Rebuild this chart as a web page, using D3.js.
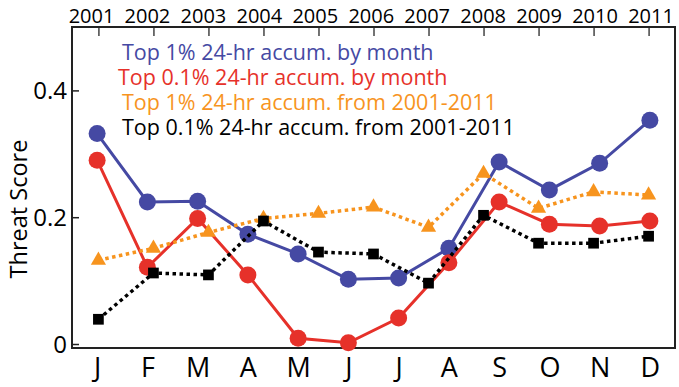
<!DOCTYPE html>
<html>
<head>
<meta charset="utf-8">
<script src="https://cdn.jsdelivr.net/npm/d3@7"></script>
<style>
  html, body { margin: 0; padding: 0; background: #fff; }
  svg text { font-family: 'Open Sans', sans-serif; }
</style>
</head>
<body>
<div id="vis"></div>
<script>
// months (bottom axis) and years (top axis)
var months = ["J", "F", "M", "A", "M ", "J ", "J  ", "A ", "S", "O", "N", "D"]
var monthLabels = ["J", "F", "M", "A", "M", "J", "J", "A", "S", "O", "N", "D"]
var years = ["2001", "2002", "2003", "2004", "2005", "2006", "2007", "2008", "2009", "2010", "2011"]
var yTicks = [0, 0.2, 0.4]

// by month series
var top1Month = [0.332, 0.224, 0.225, 0.173, 0.142, 0.102, 0.104, 0.151, 0.287, 0.243, 0.285, 0.353]
var top01Month = [0.290, 0.121, 0.198, 0.109, 0.009, 0.002, 0.041, 0.128, 0.224, 0.189, 0.186, 0.194]
// by year series
var top1Year = [0.132, 0.151, 0.176, 0.198, 0.206, 0.216, 0.184, 0.269, 0.214, 0.240, 0.235]
var top01Year = [0.039, 0.112, 0.109, 0.194, 0.145, 0.142, 0.096, 0.203, 0.159, 0.159, 0.170]

var legendItems = [
    { text: "Top 1% 24-hr accum. by month", color: "#4549a3" },
    { text: "Top 0.1% 24-hr accum. by month", color: "#e6312a" },
    { text: "Top 1% 24-hr accum. from 2001-2011", color: "#f7941e" },
    { text: "Top 0.1% 24-hr accum. from 2001-2011", color: "#000000" }
]

var W = 679, H = 387
var margin = { top: 27, right: 4, bottom: 39, left: 72 },
    width = W - margin.left - margin.right,
    height = H - margin.top - margin.bottom;

var svg = d3.select("#vis").append("svg")
    .attr("width", W)
    .attr("height", H)

var g = svg.append("g")
    .attr("transform", "translate(" + margin.left + "," + margin.top + ")")

var xMonth = d3.scalePoint().domain(months).range([0, width]).padding(0.5)
var xYear = d3.scalePoint().domain(years).range([0, width]).padding(0.48)
// the year labels sit a bit wider apart than their ticks
var xYearLabel = d3.scalePoint().domain(years).range([19.5, 579])
var y = d3.scaleLinear().domain([-0.0063, 0.5]).range([height, 0])

// top axis (years): ticks inside the frame
var topAxis = g.append("g")
    .call(d3.axisTop(xYear).tickSize(-9).tickFormat(""))
topAxis.select("path.domain").remove()
topAxis.selectAll(".tick line").attr("stroke", "#444").attr("stroke-width", 1.5)

g.append("g")
    .selectAll("text")
    .data(years)
    .enter()
    .append("text")
    .attr("x", function (d) { return xYearLabel(d) })
    .attr("y", -4)
    .attr("text-anchor", "middle")
    .attr("fill", "#000")
    .style("font-size", "20px")
    .text(function (d) { return d })

// bottom axis (months)
var bottomAxis = g.append("g")
    .attr("transform", "translate(0," + height + ")")
    .call(d3.axisBottom(xMonth).tickSize(0).tickFormat(function (d, i) { return monthLabels[i] }))
bottomAxis.select("path.domain").remove()
bottomAxis.selectAll(".tick text")
    .attr("y", 29)
    .attr("dy", 0)
    .attr("fill", "#000")
    .style("font-size", "27px")

// left axis
var leftAxis = g.append("g")
    .call(d3.axisLeft(y).tickValues(yTicks).tickSize(-7).tickPadding(5)
        .tickFormat(function (d) { return d == 0 ? "0" : d.toFixed(1) }))
leftAxis.select("path.domain").remove()
leftAxis.selectAll(".tick line").attr("stroke", "#222").attr("stroke-width", 1.5)
leftAxis.selectAll(".tick text")
    .attr("fill", "#000")
    .attr("dy", "0.35em")
    .style("font-size", "24px")

svg.append("text")
    .attr("transform", "translate(27,209) rotate(-90)")
    .attr("text-anchor", "middle")
    .attr("fill", "#000")
    .style("font-size", "23.5px")
    .text("Threat Score")

// frame
g.append("rect")
    .attr("width", width)
    .attr("height", height)
    .attr("fill", "none")
    .attr("stroke", "#222")
    .attr("stroke-width", 2)

// series
var lineMonth = d3.line()
    .x(function (d, i) { return xMonth(months[i]) })
    .y(function (d) { return y(d) })
var lineYear = d3.line()
    .x(function (d, i) { return xYear(years[i]) })
    .y(function (d) { return y(d) })

function drawCircles(values, color) {
    g.append("path")
        .datum(values)
        .attr("d", lineMonth)
        .attr("fill", "none")
        .attr("stroke", color)
        .attr("stroke-width", 3)
    g.selectAll(null)
        .data(values)
        .enter()
        .append("circle")
        .attr("cx", function (d, i) { return xMonth(months[i]) })
        .attr("cy", function (d) { return y(d) })
        .attr("r", 8.5)
        .attr("fill", color)
}

function drawDotted(values, color, symbol, size) {
    g.append("path")
        .datum(values)
        .attr("d", lineYear)
        .attr("fill", "none")
        .attr("stroke", color)
        .attr("stroke-width", 3.5)
        .attr("stroke-dasharray", "3.5,3.5")
    g.selectAll(null)
        .data(values)
        .enter()
        .append("path")
        .attr("transform", function (d, i) { return "translate(" + xYear(years[i]) + "," + y(d) + ")" })
        .attr("d", d3.symbol().type(symbol).size(size))
        .attr("fill", color)
}

drawCircles(top1Month, legendItems[0].color)
drawCircles(top01Month, legendItems[1].color)
drawDotted(top1Year, legendItems[2].color, d3.symbolTriangle, 100)
drawDotted(top01Year, legendItems[3].color, d3.symbolSquare, 115)

// legend
svg.selectAll(".legend")
    .data(legendItems)
    .enter()
    .append("text")
    .attr("class", "legend")
    .attr("x", function (d, i) { return i == 1 ? 118 : 122 })
    .attr("y", function (d, i) { return 52 + i * 25 })
    .attr("dy", "0.35em")
    .attr("fill", function (d) { return d.color })
    .style("font-size", "21.5px")
    .text(function (d) { return d.text })
</script>
</body>
</html>
